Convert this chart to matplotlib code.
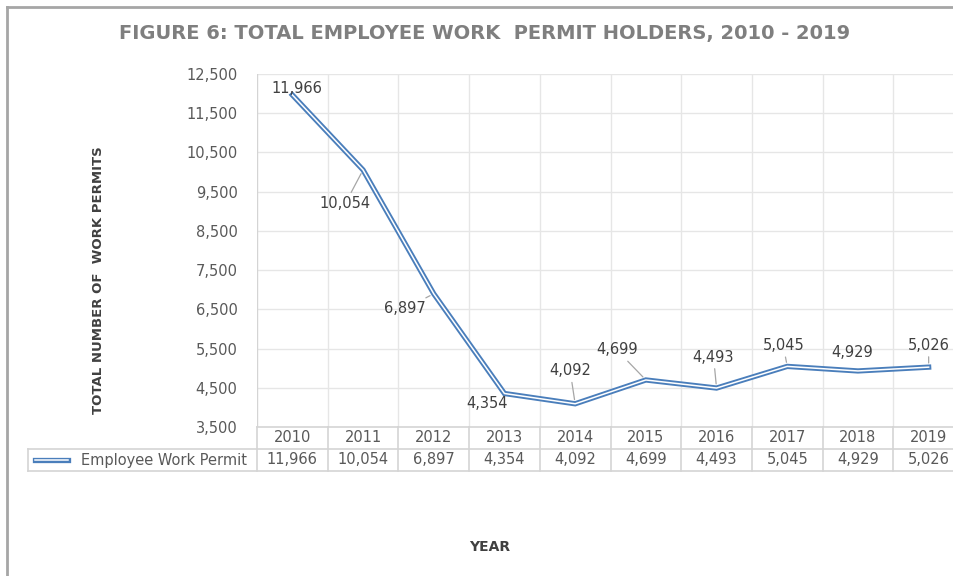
import matplotlib.pyplot as plt
import matplotlib.transforms as mtransforms
from matplotlib.lines import Line2D

anos = ["2010", "2011", "2012", "2013", "2014", "2015", "2016", "2017", "2018", "2019"]
permits = [11966, 10054, 6897, 4354, 4092, 4699, 4493, 5045, 4929, 5026]
serie_nome = "Employee Work Permit"
yticks = [3500, 4500, 5500, 6500, 7500, 8500, 9500, 10500, 11500, 12500]

# deslocamento dos rotulos (pixels) e se tem linha guia
offsets = [(5, 6), (-18, -34), (-29, -15), (-17, -10), (-5, 33),
           (-29, 30), (-3, 31), (-4, 21), (-6, 18), (0, 22)]
guias = [False, True, True, False, True, True, True, True, False, True]

azul = "#4a7ebb"
cinza_txt = "#595959"
cinza_grid = "#e6e6e6"
cinza_tab = "#d4d4d4"

W, H = 954, 576
fig = plt.figure(figsize=(W / 100, H / 100), dpi=100)

# area do grafico (em pixels da imagem)
x0, x1, ytop, ybot = 257, 964, 74, 427
ax = fig.add_axes([x0 / W, 1 - ybot / H, (x1 - x0) / W, (ybot - ytop) / H])

x = list(range(len(anos)))
ax.plot(x, permits, color=azul, lw=3.8, solid_joinstyle="miter", zorder=3, clip_on=False)
ax.plot(x, permits, color="white", lw=1.1, solid_joinstyle="miter", zorder=4, clip_on=False)

ax.set_xlim(-0.5, len(anos) - 0.5)
ax.set_ylim(3500, 12500)
ax.set_yticks(yticks)
ax.set_yticklabels([f"{v:,}" for v in yticks], fontsize=10.5, color=cinza_txt)
ax.tick_params(axis="y", length=0, pad=14)
ax.set_xticks([])
for s in ax.spines.values():
    s.set_visible(False)

# grade
for v in yticks[1:]:
    ax.axhline(v, color=cinza_grid, lw=1, zorder=1)
for k in range(1, len(anos) + 1):
    ax.axvline(k - 0.5, color=cinza_grid, lw=1, zorder=1)
ax.axvline(-0.5, color=cinza_tab, lw=1, zorder=1)

# rotulos dos dados
for i, v in enumerate(permits):
    dx, dy = offsets[i]
    ap = dict(arrowstyle="-", color="#a6a6a6", lw=0.9, shrinkA=1, shrinkB=3) if guias[i] else None
    ax.annotate(f"{v:,}", (i, v), xytext=(dx, dy), textcoords="offset pixels",
                ha="center", va="center", fontsize=10.5, color="#404040",
                arrowprops=ap, zorder=5)

# tabela de dados
tr = mtransforms.blended_transform_factory(ax.transData, ax.transAxes)
row = 22 / (ybot - ytop)
xl = -0.5 - (x0 - 28) / ((x1 - x0) / len(anos))
xr = len(anos) - 0.5
for yy, xa in [(0, -0.5), (-row, xl), (-2 * row, xl)]:
    ax.add_line(Line2D([xa, xr], [yy, yy], transform=tr, color=cinza_tab, lw=1.2, clip_on=False))
ax.add_line(Line2D([xl, xl], [-row, -2 * row], transform=tr, color=cinza_tab, lw=1.2, clip_on=False))
for k in range(len(anos) + 1):
    ax.add_line(Line2D([k - 0.5, k - 0.5], [0, -2 * row], transform=tr, color=cinza_tab, lw=1.2, clip_on=False))
for i, (a, v) in enumerate(zip(anos, permits)):
    ax.text(i, -0.5 * row, a, transform=tr, ha="center", va="center", fontsize=10.5, color=cinza_txt)
    ax.text(i, -1.5 * row, f"{v:,}", transform=tr, ha="center", va="center", fontsize=10.5, color=cinza_txt)

# chave da legenda na tabela
kx = [xl + 0.1, xl + 0.57]
ax.add_line(Line2D(kx, [-1.5 * row] * 2, transform=tr, color=azul, lw=3.8, clip_on=False))
ax.add_line(Line2D(kx, [-1.5 * row] * 2, transform=tr, color="white", lw=1.1, clip_on=False))
ax.text(-0.64, -1.5 * row, serie_nome, transform=tr, ha="right", va="center", fontsize=10.5, color=cinza_txt)

# titulo e eixos
fig.text(485 / W, 1 - 33 / H, "FIGURE 6: TOTAL EMPLOYEE WORK  PERMIT HOLDERS, 2010 - 2019",
         ha="center", va="center", fontsize=14, fontweight="bold", color="#7f7f7f")
fig.text(99 / W, 1 - 280 / H, "TOTAL NUMBER OF  WORK PERMITS", rotation=90,
         ha="center", va="center", fontsize=9.5, fontweight="bold", color="#404040")
fig.text(490 / W, 1 - 547 / H, "YEAR", ha="center", va="center",
         fontsize=10, fontweight="bold", color="#404040")

# moldura
fig.add_artist(Line2D([7 / W, 7 / W], [0, 1 - 7 / H], color="#a6a6a6", lw=2))
fig.add_artist(Line2D([7 / W, 1], [1 - 7 / H, 1 - 7 / H], color="#a6a6a6", lw=2))

fig.savefig("out.png", dpi=100)
